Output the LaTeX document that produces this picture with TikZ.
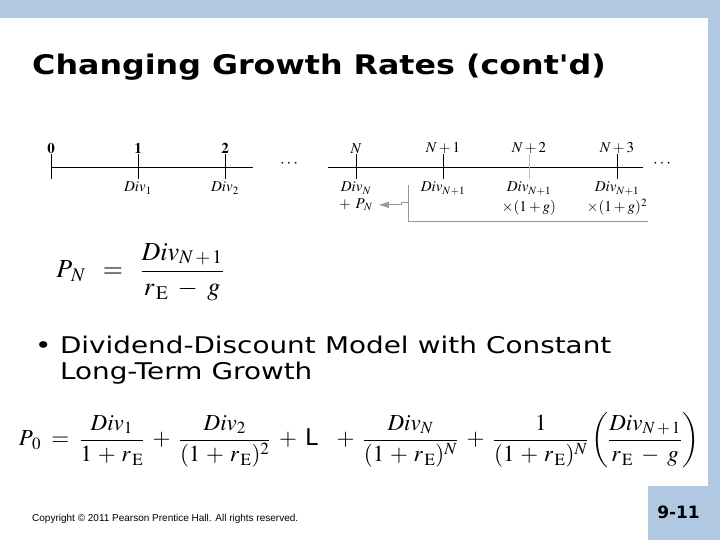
\documentclass[tikz,border=0pt]{standalone}
\usepackage{amsmath}
\usepackage{mathptmx}
\usepackage[no-math]{fontspec}
\setmainfont{DejaVu Sans}
\newfontfamily\copyfont{Liberation Sans}
\usetikzlibrary{positioning}
\usetikzlibrary{arrows.meta}
\definecolor{slideblue}{RGB}{176,200,226}
\definecolor{bracketgrey}{RGB}{150,150,150}
\definecolor{ticklight}{RGB}{190,190,190}
\newcommand{\rE}{r_{\,\mathrm{E}}}

\begin{document}
\begin{tikzpicture}[x=1pt,y=-1pt,
	timeline/.style={line width=0.8pt},
	tick/.style={line width=0.8pt},
	ticklabel/.style={font=\fontsize{15}{17}\selectfont, inner sep=1pt},
	divlabel/.style={font=\fontsize{15}{20}\selectfont, inner sep=1pt, align=center},
	bracket/.style={bracketgrey, line width=1pt}]
	\useasboundingbox (0,0) rectangle (720,540);

	% slide frame
	\fill[slideblue] (0,0) rectangle (720,18);
	\fill[slideblue] (708,0) rectangle (720,540);
	\fill[slideblue] (648,486) rectangle (720,540);

	\node[anchor=base west, inner sep=0pt, xscale=1.175] (title) at (32,75) {\bfseries\fontsize{27}{32}\selectfont Changing Growth Rates (cont\textquotesingle d)};

	% first part of the timeline
	\coordinate (t0) at (51,167);
	\coordinate (t1) at (138,167);
	\coordinate (t2) at (225,167);
	\coordinate (tend) at (253,167);
	\draw[timeline] (t0) -- (tend);
	\draw[tick] ([yshift=-12pt]t0) -- ([yshift=13pt]t0);
	\draw[tick] ([yshift=-12pt]t1) -- ([yshift=13pt]t1);
	\draw[tick] ([yshift=-12pt]t2) -- ([yshift=13pt]t2);
		\node[ticklabel, above=12pt of t0] (n0) {$\mathbf{0}$};
		\node[ticklabel, above=12pt of t1] (n1) {$\mathbf{1}$};
		\node[ticklabel, above=12pt of t2] (n2) {$\mathbf{2}$};
		\node[divlabel, below=14pt of t1] (d1) {$Div_1$};
		\node[divlabel, below=14pt of t2] (d2) {$Div_2$};
	\node[font=\fontsize{17}{19}\selectfont] (dotsa) at (290,164) {$\cdots$};

	% second part of the timeline
	\coordinate (tstart) at (328,167);
	\coordinate (tN) at (356,167);
	\coordinate (tN1) at (443,167);
	\coordinate (tN2) at (529,167);
	\coordinate (tN3) at (617,167);
	\coordinate (tstop) at (643,167);
	\draw[timeline] (tstart) -- (tstop);
	\draw[tick] ([yshift=-12pt]tN) -- ([yshift=13pt]tN);
	\draw[tick] ([yshift=-12pt]tN1) -- ([yshift=13pt]tN1);
	\draw[tick, ticklight] ([yshift=-12pt]tN2) -- ([yshift=13pt]tN2);
	\draw[tick] ([yshift=-12pt]tN3) -- ([yshift=13pt]tN3);
		\node[ticklabel, above=12pt of tN] (nN) {$N$};
		\node[ticklabel, above=12pt of tN1] (nN1) {$N+1$};
		\node[ticklabel, above=12pt of tN2] (nN2) {$N+2$};
		\node[ticklabel, above=12pt of tN3] (nN3) {$N+3$};
	\node[font=\fontsize{17}{19}\selectfont] (dotsb) at (663,164) {$\cdots$};

		\node[divlabel, below=14pt of tN] (dN) {$Div_N$};
		\node[divlabel, below=2pt of dN] (pN) {$+\ P_{\,N}$};
		\node[divlabel, below=14pt of tN1] (dN1) {$Div_{N+1}$};
		\node[divlabel, below=14pt of tN2, anchor=north] (dN2) {$Div_{N+1}$\\$\times(1+g)$};
		\node[divlabel, below=14pt of tN3, anchor=north] (dN3) {$Div_{N+1}$\\$\times(1+g)^2$};

	% bracket that folds the later dividends into P_N
	\coordinate (brtop) at (408,185);
	\coordinate (brbot) at (408,222);
	\coordinate (brend) at (648,222);
	\coordinate (brstep) at (408,203);
	\draw[bracket] (brtop) -- (brbot) -- (brend);
	\draw[bracket, -{Triangle[length=10pt,width=6pt]}] (brstep) -- ++(-7,0) |- ([xshift=5pt]pN.east);

	\node[font=\fontsize{26}{30}\selectfont, inner sep=0pt] (pnform) at (140,272)
		{$P_{\,N} \;\;=\;\; \dfrac{Div_{N\,+\,1}}{\rE\;-\;g}$};

	\node[anchor=base west, inner sep=0pt, xscale=1.21, font=\fontsize{23}{26}\selectfont, text width=520pt] (bullet) at (35,353)
		{\makebox[20.5pt][l]{\textbullet}Dividend-Discount Model with Constant\\\hspace*{20.5pt}Long-Term Growth};

	\node[font=\fontsize{23}{27}\selectfont, inner sep=0pt] (pzero) at (359,440)
		{$P_{\,0} \;=\; \dfrac{Div_1}{1\,+\,\rE} \;+\; \dfrac{Div_2}{(1\,+\,\rE)^2} \;+\;\mbox{L}\;\;\;+\; \dfrac{Div_N}{(1\,+\,\rE)^N} \;+\; \dfrac{1}{(1\,+\,\rE)^N}\left(\dfrac{Div_{N\,+\,1}}{\rE\;-\;g}\right)$};

	\node[anchor=base west, inner sep=0pt, font=\copyfont\fontsize{10}{12}\selectfont] (copy) at (32,521) {Copyright \textcopyright\ 2011 Pearson Prentice Hall. All rights reserved.};
	\node[anchor=base east, inner sep=0pt, font=\bfseries\fontsize{17}{20}\selectfont] (slideno) at (700,518) {9-11};
\end{tikzpicture}
\end{document}
